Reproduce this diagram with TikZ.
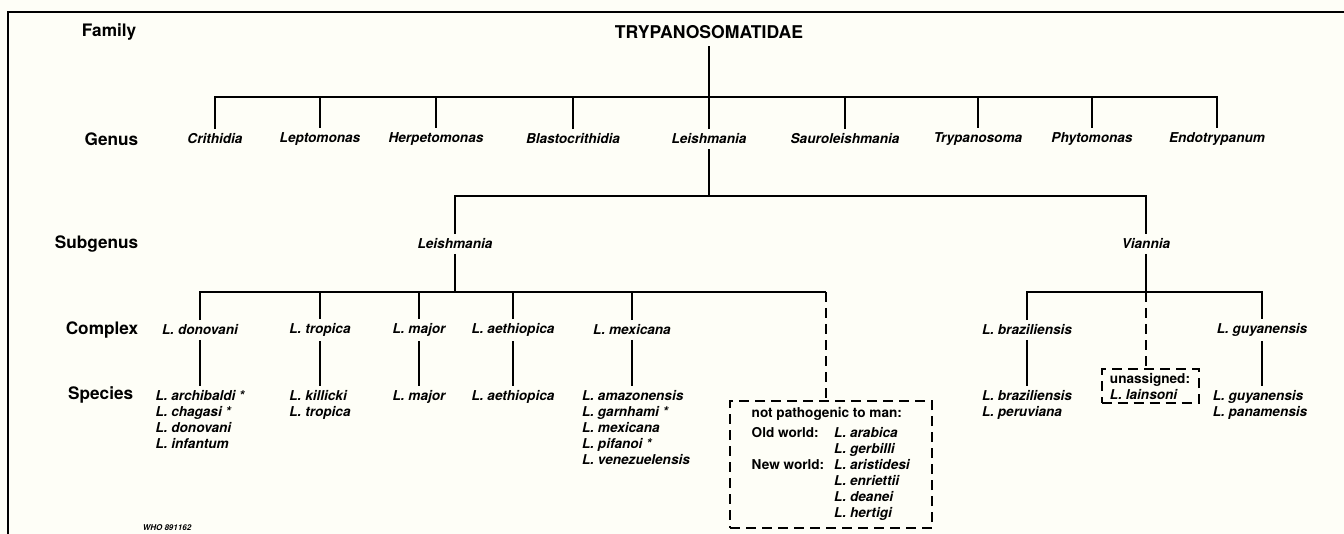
\documentclass[tikz,border=0pt]{standalone}
\usepackage{fontspec}
\setmainfont{TeX Gyre Heros}
\definecolor{paper}{RGB}{254,254,247}

\begin{document}
\begin{tikzpicture}[x=0.5pt, y=-0.5pt, thick]
    \tikzstyle{rank_label} = [draw=none, anchor=east, inner sep=2pt, font={\fontsize{8.6}{10}\selectfont\bfseries}]
    \tikzstyle{taxon} = [draw=none, inner sep=2pt, font={\fontsize{6.8}{8}\selectfont\bfseries\itshape}]
    \tikzstyle{species} = [taxon, anchor=north, align=left]
    \tikzstyle{line_black} = [black, line width=1pt]
    \tikzstyle{line_dash} = [black, line width=1pt, dash pattern=on 5pt off 3pt]
    \tikzstyle{box_dash} = [line_dash, draw, anchor=north, align=left, font={\fontsize{6.8}{8}\selectfont\bfseries}]

    \useasboundingbox[fill=paper] (0,0) rectangle (1344,534);

    % frame
    \coordinate (fTL) at (8,12);
    \coordinate (fTR) at (1344,12);
    \coordinate (fBL) at (8,534);
    \draw[line_black] (fTR) -- (fTL) -- (fBL);

    % rank labels
    \node[rank_label] (rFam) at (141,32) {Family};
    \node[rank_label] (rGen) at (143,139) {Genus};
    \node[rank_label] (rSub) at (143,244) {Subgenus};
    \node[rank_label] (rCom) at (143,330) {Complex};
    \node[rank_label] (rSpe) at (138,395) {Species};

    % ---------------------------------------

    \node[draw=none, font={\fontsize{8.8}{10}\selectfont\bfseries}] (nFam) at (709,32) {TRYPANOSOMATIDAE};

    \node[taxon] (gCri) at (215,139) {Crithidia};
    \node[taxon] (gLep) at (320,139) {Leptomonas};
    \node[taxon] (gHer) at (436,139) {Herpetomonas};
    \node[taxon] (gBla) at (573,139) {Blastocrithidia};
    \node[taxon] (gLei) at (709,139) {Leishmania};
    \node[taxon] (gSau) at (845,139) {Sauroleishmania};
    \node[taxon] (gTry) at (978,139) {Trypanosoma};
    \node[taxon] (gPhy) at (1092,139) {Phytomonas};
    \node[taxon] (gEnd) at (1217,139) {Endotrypanum};

    \coordinate (jG) at (709,97);
    \draw[line_black] (nFam) -- (jG);
    \draw[line_black] (gCri) |- (jG) -| (gEnd);
    \draw[line_black] (gLep) -- (gLep |- jG);
    \draw[line_black] (gHer) -- (gHer |- jG);
    \draw[line_black] (gBla) -- (gBla |- jG);
    \draw[line_black] (gLei) -- (jG);
    \draw[line_black] (gSau) -- (gSau |- jG);
    \draw[line_black] (gTry) -- (gTry |- jG);
    \draw[line_black] (gPhy) -- (gPhy |- jG);

    % ---------------------------------------

    \node[taxon] (sLei) at (455,244) {Leishmania};
    \node[taxon] (sVia) at (1146,244) {Viannia};

    \coordinate (jS) at (709,196);
    \draw[line_black] (gLei) -- (jS);
    \draw[line_black] (sLei) |- (jS) -| (sVia);

    % ---------------------------------------

    \node[taxon] (cDon) at (200,330) {L. donovani};
    \node[taxon] (cTro) at (320,330) {L. tropica};
    \node[taxon] (cMaj) at (419,330) {L. major};
    \node[taxon] (cAet) at (513,330) {L. aethiopica};
    \node[taxon] (cMex) at (632,330) {L. mexicana};
    \node[taxon] (cBra) at (1027,330) {L. braziliensis};
    \node[taxon] (cGuy) at (1262,330) {L. guyanensis};

    \coordinate (jL) at (455,292);
    \coordinate (kNP) at (826,292);
    \draw[line_black] (sLei) -- (jL);
    \draw[line_black] (cDon) |- (kNP);
    \draw[line_black] (cTro) -- (cTro |- jL);
    \draw[line_black] (cMaj) -- (cMaj |- jL);
    \draw[line_black] (cAet) -- (cAet |- jL);
    \draw[line_black] (cMex) -- (cMex |- jL);

    \coordinate (jV) at (1146,292);
    \draw[line_black] (sVia) -- (jV);
    \draw[line_black] (cBra) |- (jV) -| (cGuy);

    % ---------------------------------------

    \node[species] (pDon) at (200,386) {L. archibaldi *\\L. chagasi *\\L. donovani\\L. infantum};
    \node[species] (pTro) at (320,386) {L. killicki\\L. tropica};
    \node[species] (pMaj) at (419,386) {L. major};
    \node[species] (pAet) at (513,386) {L. aethiopica};
    \node[species] (pMex) at (636,386) {L. amazonensis\\L. garnhami *\\L. mexicana\\L. pifanoi *\\L. venezuelensis};
    \node[species] (pBra) at (1027,386) {L. braziliensis\\L. peruviana};
    \node[species] (pGuy) at (1260,386) {L. guyanensis\\L. panamensis};

    \draw[line_black] (cDon) -- (cDon |- pDon.north);
    \draw[line_black] (cTro) -- (cTro |- pTro.north);
    \draw[line_black] (cMaj) -- (pMaj);
    \draw[line_black] (cAet) -- (pAet);
    \draw[line_black] (cMex) -- (cMex |- pMex.north);
    \draw[line_black] (cBra) -- (cBra |- pBra.north);
    \draw[line_black] (cGuy) -- (cGuy |- pGuy.north);

    % ---------------------------------------

    \node[box_dash, minimum width=101pt, minimum height=63.5pt, inner ysep=2.5pt] (bNP) at (831,400)
        {\begin{tabular}{@{}l@{\hspace{5pt}}l@{}}
         \multicolumn{2}{@{}l@{}}{not pathogenic to man:}\\[2pt]
         Old world: & \textit{L. arabica}\\
          & \textit{L. gerbilli}\\
         New world: & \textit{L. aristidesi}\\
          & \textit{L. enriettii}\\
          & \textit{L. deanei}\\
          & \textit{L. hertigi}
         \end{tabular}};
    \draw[line_dash] (kNP) -- (kNP |- bNP.north);

    \node[box_dash, minimum width=48.5pt, minimum height=17pt, inner sep=1.5pt] (bUn) at (1150,368)
        {unassigned:\\\textit{L. lainsoni}};
    \draw[line_dash] (jV) -- (jV |- bUn.north);

    \node[draw=none, font={\fontsize{4}{4}\selectfont\bfseries\itshape}] (nWho) at (167,528) {WHO 891162};

\end{tikzpicture}
\end{document}
